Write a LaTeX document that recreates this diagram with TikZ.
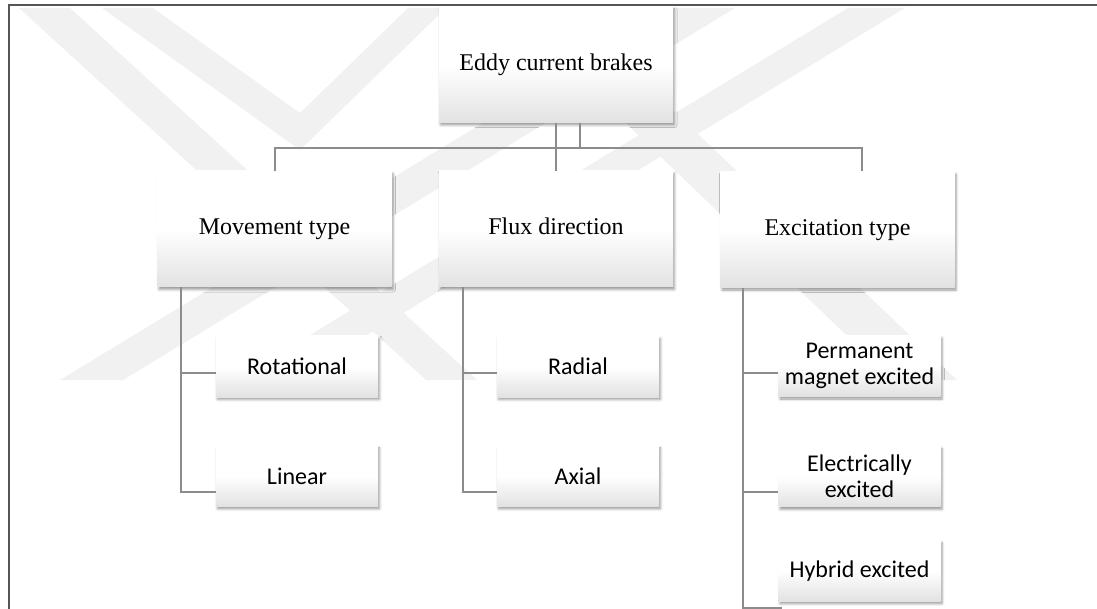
\documentclass[tikz,border=0pt]{standalone}
\usepackage{fontspec}
\setmainfont{Liberation Serif}
\newfontfamily\calib{Carlito}
\usetikzlibrary{positioning,calc,shadows.blur}
\definecolor{Wire}{HTML}{8C8C8C}
\definecolor{Frame}{HTML}{555555}
\definecolor{Mark}{HTML}{F1F1F1}
\definecolor{BoxLow}{HTML}{E2E2E2}
\pgfdeclareverticalshading{boxfade}{100bp}{color(0bp)=(BoxLow); color(25bp)=(BoxLow); color(50bp)=(white); color(100bp)=(white)}
\tikzset{
  card/.style={shading=boxfade,inner sep=0pt,align=center,
    blur shadow={shadow xshift=1.5pt,shadow yshift=-2.5pt,shadow blur radius=2.5pt,shadow opacity=40}},
  headbox/.style={card,minimum width=234pt,minimum height=116pt,font=\fontsize{24}{28}\selectfont,
    execute at begin node=\strut},
  leafbox/.style={card,minimum width=162pt,minimum height=61pt,font=\calib\fontsize{24}{26}\selectfont},
  link/.style={draw=Wire,line width=2pt},
  rim/.style={draw=Frame,line width=1.5pt},
  band/.style={fill=Mark,draw=none}
}
\begin{document}
\begin{tikzpicture}[x=1pt,y=-1pt]
  \useasboundingbox (0,0) rectangle (1097,609);
  % watermark in the background
  \fill[band] (19,8) -- (70,8) -- (477,380) -- (426,380) -- cycle;
  \fill[band] (102,8) -- (153,8) -- (300,113) -- (408,8) -- (446,8) -- (300,150) -- cycle;
  \fill[band] (672,8) -- (735,8) -- (123,380) -- (60,380) -- cycle;
  \fill[band] (848,8) -- (905,8) -- (293,380) -- (236,380) -- cycle;
  \fill[band] (560,60) -- (620,60) -- (957,380) -- (893,380) -- cycle;
  % frame
  \draw[rim] (1097,5) -- (9,5) -- (9,609);
  % top levels
  \node[headbox] (root) at (556,64.5) {Eddy current brakes};
  \node[headbox] (move) at (274.5,229) {Movement type};
  \node[headbox] (flux) at (556,229) {Flux direction};
  \node[headbox] (excite) at (837.5,229.5) {Excitation type};
  % leaves
  \node[leafbox] (rot) at (297,366.5) {Rotational};
  \node[leafbox,below=48pt of rot] (lin) {Linear};
  \node[leafbox] (rad) at (578,366.5) {Radial};
  \node[leafbox,below=48pt of rad] (axi) {Axial};
  \node[leafbox] (perm) at (859.5,366) {Permanent\\magnet excited};
  \node[leafbox,below=49pt of perm] (elec) {Electrically\\excited};
  \node[leafbox,below=33pt of elec] (hyb) {Hybrid excited};
  % connectors from the root
  \coordinate (bar) at (0,148);
  \coordinate (exctop) at ([xshift=24.5pt]excite.north);
  \draw[link] (root.south) -- (root.south |- bar);
  \draw[link] ([xshift=24pt]root.south) -- ([xshift=24pt]root.south |- bar);
  \draw[link] (move.north) |- (bar -| exctop) -- (exctop);
  \draw[link] (flux.north) -- (flux.north |- bar);
  % spines under the second level
  \coordinate (mspine) at ([xshift=24pt]move.south west);
  \coordinate (fspine) at ([xshift=24pt]flux.south west);
  \coordinate (espine) at ([xshift=23pt]excite.south west);
  \draw[link] (mspine) |- ([yshift=-16.5pt]lin.west);
  \draw[link] ([yshift=-6.5pt]rot.west) -- ([yshift=-6.5pt]rot.west -| mspine);
  \draw[link] (fspine) |- ([yshift=-16.5pt]axi.west);
  \draw[link] ([yshift=-6.5pt]rad.west) -- ([yshift=-6.5pt]rad.west -| fspine);
  \draw[link] (espine) |- (782,608);
  \draw[link] ([yshift=-7pt]perm.west) -- ([yshift=-7pt]perm.west -| espine);
  \draw[link] ([yshift=-15.5pt]elec.west) -- ([yshift=-15.5pt]elec.west -| espine);
\end{tikzpicture}
\end{document}
